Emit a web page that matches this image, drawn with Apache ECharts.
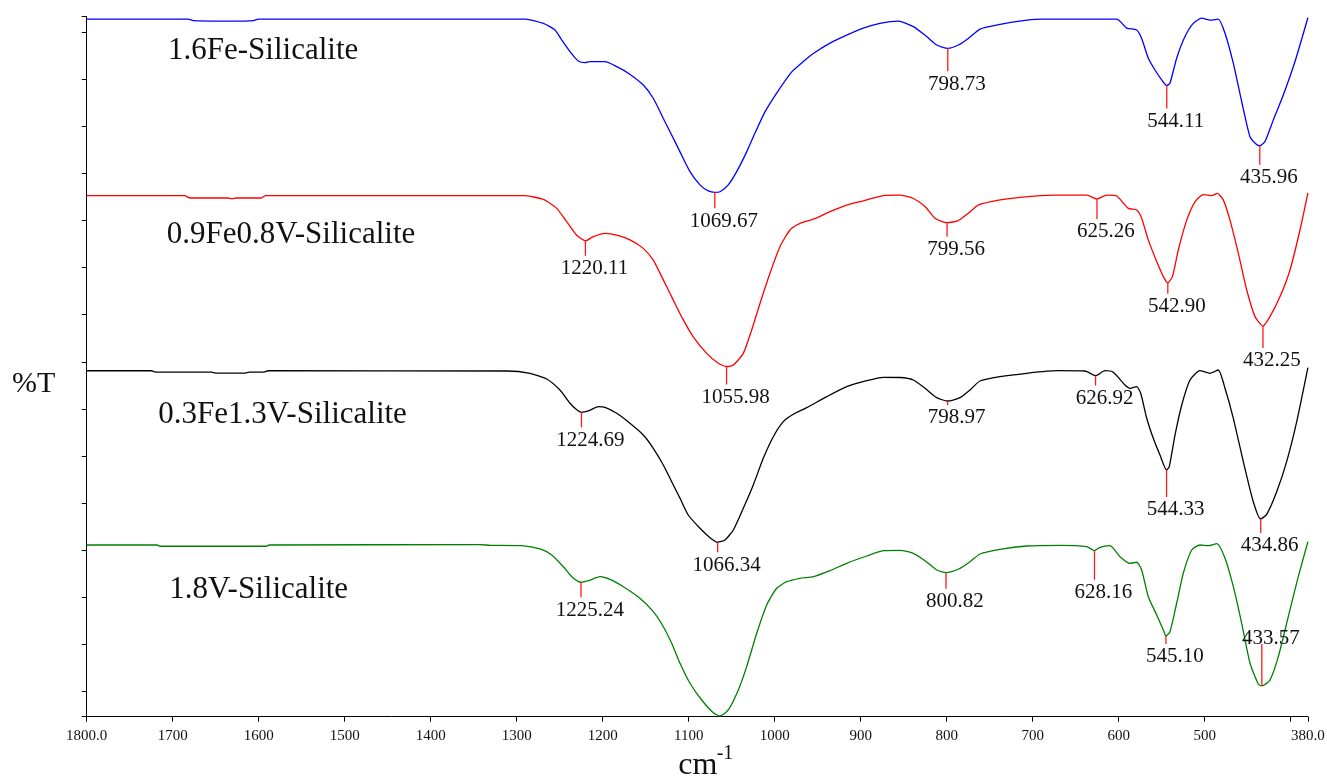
<!DOCTYPE html>
<html>
<head>
<meta charset="utf-8">
<title>FT-IR spectra of Fe/V-Silicalite samples</title>
<script src="https://cdn.jsdelivr.net/npm/echarts@6/dist/echarts.min.js"></script>
<style>
  html, body { margin: 0; padding: 0; background: #fff; }
  #chart { width: 1327px; height: 778px; }
</style>
</head>
<body>
<div id="chart"></div>
<script>
// Sample names, top to bottom
const sampleNames = ['1.6Fe-Silicalite', '0.9Fe0.8V-Silicalite', '0.3Fe1.3V-Silicalite', '1.8V-Silicalite'];

// Spectra: [wavenumber (cm-1), %T offset scale]
const fe16 = [
  [1800,142.8],[1682,142.8],[1676,142.5],[1645,142.4],[1616,142.4],[1606,142.5],[1600,142.8],[1290,142.8],
  [1269,141.9],[1255.5,140.5],[1247.7,138.4],[1238,135.9],[1228.4,133.9],[1220.6,133.55],[1214.8,133.76],
  [1197.3,133.76],[1183.7,132.7],[1170.2,131.3],[1152.8,128.8],[1141.2,126.0],[1129.5,121.7],[1119.8,118.2],
  [1110.1,114.6],[1098.5,110.4],[1086.9,107.6],[1077.2,106.3],[1069.67,106.0],[1063.6,106.14],[1054,107.6],
  [1044.2,110.4],[1032.6,114.6],[1022.9,118.6],[1011.3,123.1],[997.7,127.1],[980.2,131.6],[966.7,133.8],
  [955.1,135.5],[935.7,137.7],[916.3,139.4],[897,140.9],[877.6,141.9],[856.3,142.4],[838.8,141.2],
  [823.3,139.1],[811.6,137.3],[798.73,136.6],[786.5,137.3],[774.9,138.7],[761.3,140.7],[738,141.7],
  [710.9,142.5],[687.7,142.8],[602.3,142.8],[590.7,140.9],[579.1,140.5],[573.3,138.7],[565.6,134.5],
  [557.8,132.0],[550,129.9],[544.11,128.7],[540.4,129.2],[532.6,134.5],[522.9,139.1],[513.3,141.9],
  [503.5,143.0],[493.8,142.6],[484.2,142.8],[476.4,139.8],[466.7,133.4],[457,125.3],[447.3,117.8],
  [440,116.2],[435.96,115.9],[429.9,116.8],[420.2,121.4],[408.6,126.7],[395,133.8],[380,143.1]
];
const fe09v08 = [
  [1800,105.3],[1686,105.3],[1680,104.8],[1636,104.8],[1631,104.6],[1626,104.8],[1597,104.8],[1592,105.3],
  [1292,105.3],[1269,104.5],[1253.5,102.6],[1241.9,99.8],[1230.2,96.9],[1220.11,95.7],[1210.9,96.6],
  [1197.3,97.3],[1183.7,96.9],[1168.3,95.9],[1152.8,94.1],[1141.2,91.6],[1129.5,87.4],[1117.9,83.1],
  [1106.3,78.9],[1094.7,75.3],[1079.1,71.8],[1065.6,69.7],[1055.98,69.0],[1048.1,69.3],[1036.5,71.8],
  [1026.7,76.8],[1017.1,82.4],[1005.5,88.8],[993.8,94.5],[982.2,98.0],[970.6,99.4],[955.1,100.3],
  [935.7,101.9],[916.3,103.3],[897,104.2],[873.7,105.3],[854.3,105.4],[838.8,104.7],[825.2,103.0],
  [813.6,100.5],[799.56,99.55],[786.5,100.0],[774.9,101.55],[763.3,103.3],[738,104.4],[714.8,104.95],
  [676,105.4],[637.2,105.4],[625.26,104.6],[614,105.4],[603.1,105.3],[588.8,102.6],[579.1,102.25],
  [573.3,100.5],[565.6,95.9],[555.8,91.3],[548.1,88.1],[542.9,86.8],[537.5,88.1],[530.7,93.75],
  [520.9,100.1],[511.3,104.0],[501.6,105.5],[491.9,105.3],[485.4,105.8],[478.4,104.4],[470.6,100.1],
  [460.9,93.05],[451.2,85.3],[441.5,79.6],[432.25,77.6],[424.1,79.6],[412.5,83.8],[400.8,89.5],
  [389.2,98.0],[380,105.9]
];
const fe03v13 = [
  [1800,68.1],[1725,68.1],[1720,67.8],[1655,67.8],[1650,67.6],[1616,67.6],[1611,67.8],[1594,67.8],
  [1589,68.1],[1311.6,68.05],[1284.5,67.56],[1265.1,66.35],[1249.7,64.0],[1238,61.2],[1230.2,59.8],
  [1224.69,59.27],[1216.7,59.55],[1205.1,60.46],[1197.3,60.34],[1183.7,59.06],[1168.3,56.94],
  [1152.8,54.45],[1141.2,51.63],[1129.5,48.08],[1119.8,44.53],[1110.1,41.0],[1100.5,37.45],
  [1086.9,34.63],[1075.2,32.63],[1066.34,31.66],[1057.8,32.14],[1048.1,34.27],[1036.5,38.88],
  [1024.9,43.83],[1013.3,49.5],[1001.6,54.09],[990,57.28],[978.4,58.85],[962.8,60.25],[939.5,62.59],
  [916.3,64.71],[893,65.99],[873.7,66.71],[854.3,66.67],[838.8,66.14],[825.2,64.37],[811.6,62.38],
  [798.97,61.67],[784.5,62.38],[772.9,64.01],[761.3,65.92],[738,66.84],[707,67.56],[672.1,68.11],
  [639.2,68.05],[626.92,67.05],[615.9,68.11],[606.3,67.77],[592.7,65.07],[586.9,64.37],[579.1,64.71],
  [574.4,63.31],[567.4,58.0],[559.8,53.75],[552,50.2],[544.33,47.01],[541.2,47.72],[534.5,54.45],
  [526.7,60.83],[517.1,66.14],[505.5,68.11],[493.8,67.56],[484.2,68.26],[476.4,64.37],[466.7,58.0],
  [455.1,48.78],[443.5,40.28],[434.86,36.61],[427.9,37.6],[416.3,42.4],[404.7,48.78],[393,57.28],
  [380,68.75]
];
const v18 = [
  [1800,31.08],[1718,31.08],[1715,30.81],[1591,30.81],[1588,31.08],[1342.7,31.14],[1331,31.02],
  [1294.2,30.93],[1272.9,30.23],[1259.3,28.96],[1245.8,26.47],[1236,24.35],[1225.24,23.16],[1216.7,23.5],
  [1203.1,24.35],[1191.5,23.79],[1176,22.22],[1156.7,19.76],[1141.2,16.91],[1129.5,13.72],[1119.8,10.2],
  [1110.1,5.95],[1098.5,1.7],[1084.9,-1.85],[1071.4,-4.55],[1063.6,-5.25],[1054,-3.97],[1042.3,0.28],
  [1032.6,5.23],[1020.9,12.32],[1009.3,18.33],[997.7,21.88],[986,23.28],[970.6,24.01],[955.1,24.35],
  [935.7,25.62],[916.3,27.19],[893,28.74],[873.7,29.87],[854.3,29.95],[838.8,29.32],[825.2,27.75],
  [811.6,25.77],[800.82,25.2],[786.5,25.92],[772.9,27.53],[761.3,29.17],[738,30.17],[707,30.87],
  [668.3,31.02],[637.2,30.72],[628.16,29.87],[621.7,30.59],[610.1,30.93],[598.5,28.6],[586.9,27.19],
  [579.1,27.41],[573.3,25.77],[565.6,20.1],[555.8,16.21],[548.1,13.02],[545.1,11.75],[540.4,12.66],
  [532.6,18.7],[524.9,25.07],[515.1,30.02],[505.5,31.08],[495.8,30.93],[486,31.36],[476.4,28.26],
  [466.7,22.22],[457,14.45],[447.3,5.95],[437.7,1.55],[433.57,1.13],[424.1,2.4],[414.4,7.35],
  [402.8,15.85],[391.2,24.35],[380,31.78]
];

// Labelled band positions (cm-1)
const peaksFe16 = [1069.67, 798.73, 544.11, 435.96];
const peaksFe09V08 = [1220.11, 1055.98, 799.56, 625.26, 542.90, 432.25];
const peaksFe03V13 = [1224.69, 1066.34, 798.97, 626.92, 544.33, 434.86];
const peaksV18 = [1225.24, 800.82, 628.16, 545.10, 433.57];

// Axis ticks
const xTicks = [1800, 1700, 1600, 1500, 1400, 1300, 1200, 1100, 1000, 900, 800, 700, 600, 500, 400, 380];
const xTickLabels = [1800, 1700, 1600, 1500, 1400, 1300, 1200, 1100, 1000, 900, 800, 700, 600, 500, 380];
const yTicks = [-5.4, 0, 10, 20, 30, 40, 50, 60, 70, 80, 90, 100, 110, 120, 130, 140, 143.32];

// Styling
const serif = '"Liberation Serif", "Times New Roman", serif';
const curveColors = ['#0000ff', '#ff0000', '#000000', '#008000'];
const stickPx = [[16, 23, 23, 19], [15, 18, 14, 20, 11, 22], [15, 10, 4, 10, 27, 14], [15, 16, 29, 8, -42]];

// %T of a spectrum at a given wavenumber (linear between read points)
function valueAt(curve, w) {
  for (let i = 0; i < curve.length - 1; i++) {
    const a = curve[i], b = curve[i + 1];
    if ((w <= a[0] && w >= b[0]) || (w >= a[0] && w <= b[0])) {
      if (a[0] === b[0]) return a[1];
      return a[1] + (b[1] - a[1]) * (w - a[0]) / (b[0] - a[0]);
    }
  }
  return curve[curve.length - 1][1];
}

function peakSeries(curve, peaks, sticks) {
  return {
    type: 'custom',
    coordinateSystem: 'cartesian2d',
    silent: true,
    clip: false,
    z: 3,
    data: peaks.map(w => [w, valueAt(curve, w)]),
    renderItem: function (params, api) {
      const p = api.coord([api.value(0), api.value(1)]);
      const s = sticks[params.dataIndex];
      const end = p[1] + s;
      const up = s < 0;
      return {
        type: 'group',
        children: [
          { type: 'line', shape: { x1: p[0], y1: p[1], x2: p[0], y2: end },
            style: { stroke: '#ff1a1a', lineWidth: 1.3 } },
          { type: 'text', x: p[0] + 9, y: up ? end + 5 : end + 2.3,
            style: { text: peaks[params.dataIndex].toFixed(2), fill: '#111',
                     font: '21px ' + serif, align: 'center', verticalAlign: up ? 'bottom' : 'top' } }
        ]
      };
    }
  };
}

const curves = [fe16, fe09v08, fe03v13, v18];
const peakLists = [peaksFe16, peaksFe09V08, peaksFe03V13, peaksV18];

const series = [];
curves.forEach((c, i) => {
  series.push({
    name: sampleNames[i],
    type: 'line',
    data: c,
    showSymbol: false,
    smooth: 0.2,
    lineStyle: { color: curveColors[i], width: 1.3 },
    itemStyle: { color: curveColors[i] },
    z: 2
  });
});
peakLists.forEach((pk, i) => series.push(peakSeries(curves[i], pk, stickPx[i])));

const nameTops = [34.9, 219.6, 398.9, 573.9];
const nameLefts = [168, 166.7, 158.3, 169.3];

const option = {
  animation: false,
  backgroundColor: '#ffffff',
  grid: { left: 86.7, right: 19.1, top: 16.7, bottom: 61.3, containLabel: false, outerBoundsMode: 'none' },
  xAxis: {
    type: 'value',
    inverse: true,
    min: 380,
    max: 1800,
    splitLine: { show: false },
    axisLine: { show: true, onZero: false, lineStyle: { color: '#000', width: 1 } },
    axisTick: { show: true, length: 5, customValues: xTicks, lineStyle: { color: '#000', width: 1 } },
    axisLabel: {
      customValues: xTickLabels,
      margin: 12,
      color: '#111',
      fontFamily: serif,
      fontSize: 15,
      formatter: v => (v === 1800 || v === 380) ? v.toFixed(1) : String(v)
    }
  },
  yAxis: {
    type: 'value',
    min: -5.4,
    max: 143.32,
    splitLine: { show: false },
    axisLine: { show: true, onZero: false, lineStyle: { color: '#000', width: 1 } },
    axisTick: { show: true, length: 5, customValues: yTicks, lineStyle: { color: '#000', width: 1 } },
    axisLabel: { show: false }
  },
  series: series,
  graphic: [
    ...sampleNames.map((n, i) => ({
      type: 'text', x: nameLefts[i], y: nameTops[i], silent: true,
      style: { text: n, font: '31px ' + serif, fill: '#111', align: 'left', verticalAlign: 'top' }
    })),
    { type: 'text', x: 12, y: 368.7, silent: true,
      style: { text: '%T', font: '30px ' + serif, fill: '#111', align: 'left', verticalAlign: 'top' } },
    { type: 'text', x: 678.3, y: 749.2, silent: true,
      style: { text: 'cm', font: '32px ' + serif, fill: '#111', align: 'left', verticalAlign: 'top' } },
    { type: 'text', x: 716.7, y: 743.9, silent: true,
      style: { text: '-1', font: '20px ' + serif, fill: '#111', align: 'left', verticalAlign: 'top' } }
  ]
};

const chart = echarts.init(document.getElementById('chart'), null, { renderer: 'canvas' });
chart.setOption(option);
</script>
</body>
</html>
